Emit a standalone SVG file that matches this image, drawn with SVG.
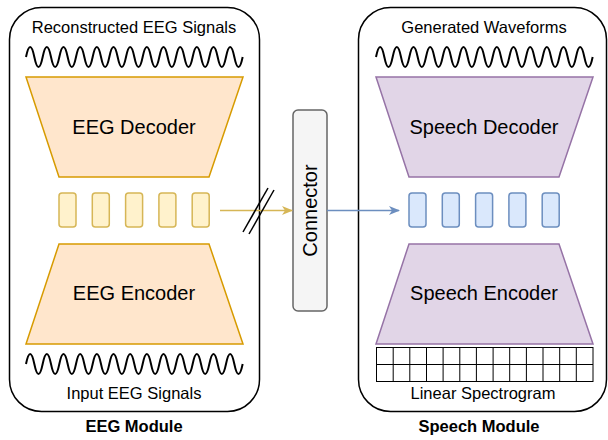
<svg xmlns="http://www.w3.org/2000/svg" width="608" height="440" viewBox="0 0 608 440">
  <style>
    text { font-family: "Liberation Sans", Arial, sans-serif; fill: #000; }
    .lbl { font-size: 16.5px; text-anchor: middle; }
    .big { font-size: 20px; text-anchor: middle; }
    .title { font-size: 16.5px; font-weight: bold; text-anchor: middle; }
    .module { fill: #fff; stroke: #000; stroke-width: 1.5; }
    .wave { fill: none; stroke: #000; stroke-width: 2; }
    .eegBlock { fill: #ffe6cc; stroke: #d79b00; stroke-width: 1.5; }
    .spBlock { fill: #e1d5e7; stroke: #9673a6; stroke-width: 1.5; }
    .eegTok { fill: #fff2cc; stroke: #d6b656; stroke-width: 1.5; }
    .spTok { fill: #dae8fc; stroke: #6c8ebf; stroke-width: 1.5; }
    .grid { fill: #fff; stroke: #000; stroke-width: 1; }
  </style>
  <defs>
    <path id="wave" d="M0,0 q4.1667,-20 8.3333,0 t8.3333,0 t8.3333,0 t8.3333,0 t8.3333,0 t8.3333,0 t8.3333,0 t8.3333,0 t8.3333,0 t8.3333,0 t8.3333,0 t8.3333,0 t8.3333,0 t8.3333,0 t8.3333,0 t8.3333,0 t8.3333,0 t8.3333,0 t8.3333,0 t8.3333,0 t8.3333,0 t8.3333,0 t8.3333,0 t8.3333,0 t8.3333,0 t8.3333,0"/>
    <g id="tokens">
      <rect x="0" y="0" width="17" height="34" rx="3"/>
      <rect x="33.3" y="0" width="17" height="34" rx="3"/>
      <rect x="66.6" y="0" width="17" height="34" rx="3"/>
      <rect x="99.9" y="0" width="17" height="34" rx="3"/>
      <rect x="133.2" y="0" width="17" height="34" rx="3"/>
    </g>
    <marker id="arrY" markerWidth="12" markerHeight="10" refX="10" refY="5" orient="auto" markerUnits="userSpaceOnUse">
      <path d="M0,0.5 L11,5 L0,9.5 L3,5 Z" fill="#d6b656"/>
    </marker>
    <marker id="arrB" markerWidth="12" markerHeight="10" refX="10" refY="5" orient="auto" markerUnits="userSpaceOnUse">
      <path d="M0,0.5 L11,5 L0,9.5 L3,5 Z" fill="#6c8ebf"/>
    </marker>
  </defs>

  <!-- EEG module -->
  <g id="eeg-module">
    <rect class="module" x="9.5" y="7.5" width="250" height="404" rx="32"/>
    <text class="lbl" x="134" y="33">Reconstructed EEG Signals</text>
    <use href="#wave" class="wave" x="26" y="57"/>
    <g id="eeg-decoder">
      <polygon class="eegBlock" points="26,77 243,77 209,177 59,177"/>
      <text class="big" x="134" y="134">EEG Decoder</text>
    </g>
    <g id="eeg-latents" class="eegTok">
      <use href="#tokens" x="59" y="193"/>
    </g>
    <g id="eeg-encoder">
      <polygon class="eegBlock" points="59,244 209,244 243,344 26,344"/>
      <text class="big" x="134" y="300">EEG Encoder</text>
    </g>
    <use href="#wave" class="wave" x="26" y="364"/>
    <text class="lbl" x="134" y="399">Input EEG Signals</text>
  </g>
  <text class="title" x="134" y="432">EEG Module</text>

  <!-- Connector -->
  <g id="connector">
    <rect x="293" y="110" width="34" height="201" rx="5" fill="#f5f5f5" stroke="#666" stroke-width="1.5"/>
    <text class="big" transform="translate(317 210.5) rotate(-90)" x="0" y="0">Connector</text>
  </g>

  <!-- Speech module -->
  <g id="speech-module">
    <rect class="module" x="358.5" y="7.5" width="248" height="404" rx="32"/>
    <text class="lbl" x="484" y="33">Generated Waveforms</text>
    <use href="#wave" class="wave" x="376" y="57"/>
    <g id="speech-decoder">
      <polygon class="spBlock" points="376,77 593,77 559,177 409,177"/>
      <text class="big" x="484" y="134">Speech Decoder</text>
    </g>
    <g id="speech-latents" class="spTok">
      <use href="#tokens" x="409" y="193"/>
    </g>
    <g id="speech-encoder">
      <polygon class="spBlock" points="409,244 559,244 593,344 376,344"/>
      <text class="big" x="484" y="300">Speech Encoder</text>
    </g>
    <g id="spectrogram" class="grid">
      <rect x="376.5" y="347.5" width="216.5" height="34"/>
      <path d="M376.5,364.5 H593 M393.2,347.5 V381.5 M409.8,347.5 V381.5 M426.5,347.5 V381.5 M443.1,347.5 V381.5 M459.8,347.5 V381.5 M476.4,347.5 V381.5 M493.1,347.5 V381.5 M509.7,347.5 V381.5 M526.4,347.5 V381.5 M543,347.5 V381.5 M559.7,347.5 V381.5 M576.3,347.5 V381.5"/>
    </g>
    <text class="lbl" x="483" y="399">Linear Spectrogram</text>
  </g>
  <text class="title" x="479" y="432">Speech Module</text>

  <!-- Connectors -->
  <g id="edges">
    <line x1="220" y1="210.5" x2="292" y2="210.5" stroke="#d6b656" stroke-width="1.5" marker-end="url(#arrY)"/>
    <line x1="243" y1="232" x2="268" y2="188" stroke="#000" stroke-width="1.5"/>
    <line x1="249" y1="234" x2="274" y2="190" stroke="#000" stroke-width="1.5"/>
    <line x1="327" y1="210.5" x2="399" y2="210.5" stroke="#6c8ebf" stroke-width="1.5" marker-end="url(#arrB)"/>
  </g>
</svg>
